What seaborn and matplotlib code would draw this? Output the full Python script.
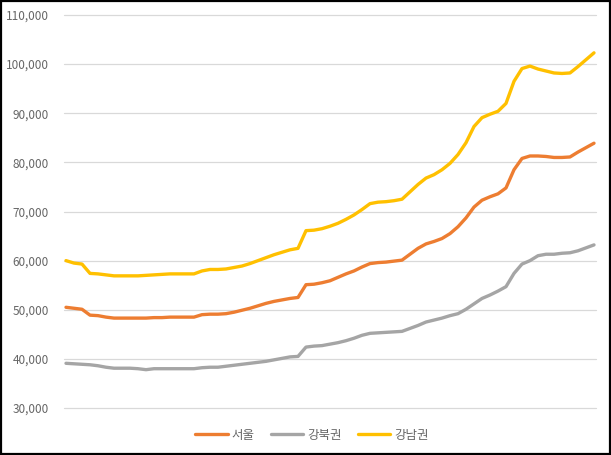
import matplotlib
matplotlib.use("Agg")
import matplotlib.pyplot as plt
import matplotlib.ticker as mticker
from matplotlib.patches import Rectangle
import seaborn as sns
import pandas as pd
import numpy as np

series_names = ["서울", "강북권", "강남권"]
colors = ["#ED7D31", "#A5A5A5", "#FFC000"]

seoul = [50500, 50300, 50100, 48900, 48800, 48500, 48300, 48300, 48300, 48300,
         48300, 48400, 48400, 48500, 48500, 48500, 48500, 49000, 49100, 49100,
         49200, 49500, 49900, 50300, 50800, 51300, 51700, 52000, 52300, 52500,
         55100, 55200, 55500, 55900, 56600, 57300, 57900, 58700, 59400, 59600,
         59700, 59900, 60100, 61300, 62500, 63400, 63900, 64500, 65500, 66900,
         68700, 70900, 72300, 73000, 73600, 74800, 78500, 80800, 81300, 81300,
         81200, 81000, 81000, 81100, 82100, 83000, 83900]

gangbuk = [39100, 39000, 38900, 38800, 38600, 38300, 38100, 38100, 38100, 38000,
           37800, 38000, 38000, 38000, 38000, 38000, 38000, 38200, 38300, 38300,
           38500, 38700, 38900, 39100, 39300, 39500, 39800, 40100, 40400, 40500,
           42400, 42600, 42700, 43000, 43300, 43700, 44200, 44800, 45200, 45300,
           45400, 45500, 45600, 46200, 46800, 47500, 47900, 48300, 48800, 49200,
           50100, 51200, 52300, 53000, 53800, 54700, 57400, 59300, 60000, 61000,
           61300, 61300, 61500, 61600, 62000, 62600, 63200]

gangnam = [60000, 59500, 59300, 57400, 57300, 57100, 56900, 56900, 56900, 56900,
           57000, 57100, 57200, 57300, 57300, 57300, 57300, 57900, 58200, 58200,
           58300, 58600, 58900, 59400, 60000, 60600, 61200, 61700, 62200, 62500,
           66100, 66200, 66500, 67000, 67600, 68400, 69300, 70400, 71600, 71900,
           72000, 72200, 72500, 74000, 75500, 76800, 77500, 78500, 79800, 81600,
           84000, 87300, 89100, 89800, 90400, 92000, 96500, 99100, 99600, 99000,
           98600, 98200, 98100, 98200, 99500, 100900, 102300]

y_ticks = [30000, 40000, 50000, 60000, 70000, 80000, 90000, 100000, 110000]

n = len(seoul)
period = list(range(n))
df = pd.DataFrame({
    "period": period * 3,
    "value": seoul + gangbuk + gangnam,
    "series": [series_names[0]] * n + [series_names[1]] * n + [series_names[2]] * n,
})

sns.set_theme(style="white")
plt.rcParams['font.family'] = ['Noto Sans CJK KR', 'DejaVu Sans']

fig = plt.figure(figsize=(6.11, 4.55), dpi=100)
ax = fig.add_axes([64 / 611, 1 - 408 / 455, (596 - 64) / 611, (408 - 15) / 455])

sns.lineplot(data=df, x="period", y="value", hue="series", hue_order=series_names,
             palette=colors, linewidth=2.4, ax=ax, legend=False)

ax.set_ylim(30000, 110000)
ax.set_xlim(-0.25, n - 1 + 0.25)
ax.set_yticks(y_ticks)
ax.yaxis.set_major_formatter(mticker.FuncFormatter(lambda v, p: f"{int(v):,}"))
ax.set_xticks([])
ax.set_xlabel("")
ax.set_ylabel("")
ax.grid(axis="y", color="#D9D9D9", linewidth=0.9)
for gl in ax.get_ygridlines():
    gl.set_clip_on(False)
ax.set_axisbelow(True)
for s in ax.spines.values():
    s.set_visible(False)
ax.tick_params(axis="y", length=0, pad=11, labelsize=8.5, labelcolor="#666666")

handles = [plt.Line2D([0], [0], color=c, linewidth=2.4) for c in colors]
fig.legend(handles, series_names, loc="center", bbox_to_anchor=(312 / 611, 1 - 435 / 455),
           ncol=3, frameon=False, fontsize=9, handlelength=2.6, handletextpad=0.3,
           columnspacing=1.3, labelcolor="#666666")

fig.patches.append(Rectangle((0.001, 0.002), 0.997, 0.996, transform=fig.transFigure,
                             fill=False, edgecolor="black", linewidth=1.6, zorder=10))

fig.savefig("out.png", dpi=100)
